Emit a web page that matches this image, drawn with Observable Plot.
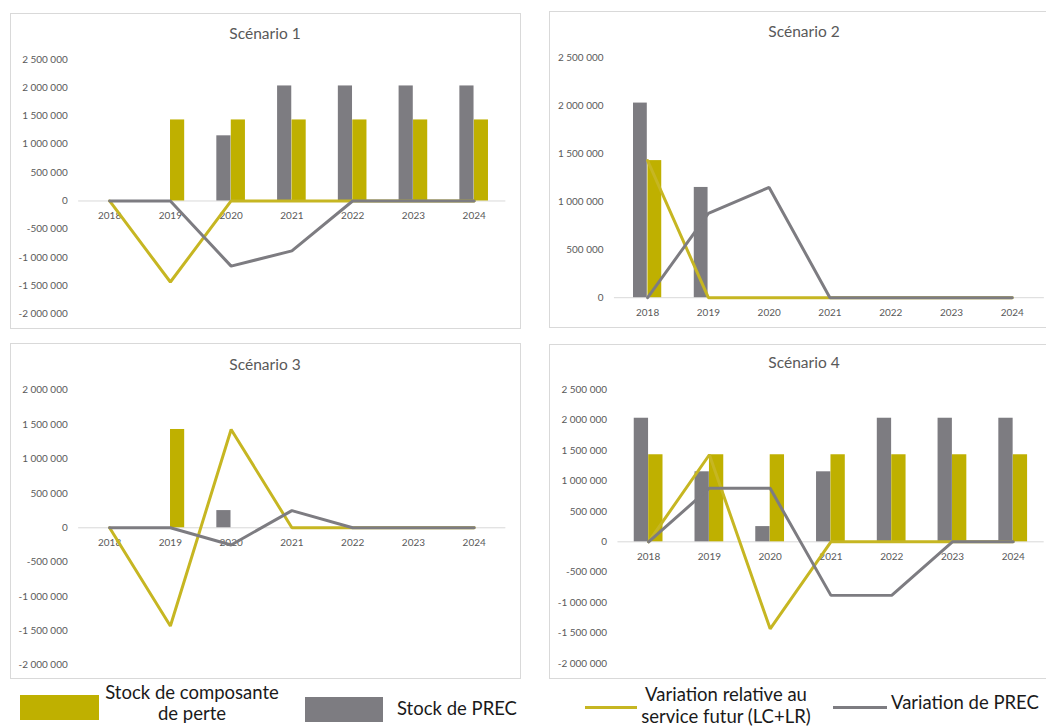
<!DOCTYPE html>
<html><head><meta charset="utf-8">
<script src="https://cdn.jsdelivr.net/npm/d3@7"></script>
<script src="https://cdn.jsdelivr.net/npm/@observablehq/plot@0.6"></script>
<style>
html,body{margin:0;padding:0;background:#fff;}
body{width:1046px;height:726px;overflow:hidden;position:relative;font-family:Lato,"Open Sans",sans-serif;}
.panel{position:absolute;border:1px solid #d9d9d9;box-sizing:border-box;}
.panel svg{position:absolute;left:-1px;top:-1px;}
.title{position:absolute;width:200px;text-align:center;font-size:15.5px;line-height:16px;color:#595959;white-space:nowrap;}
.leg{position:absolute;color:#1a1a1a;font-size:18.5px;white-space:nowrap;}
.sw{position:absolute;}
</style></head><body>
<script>
// ---- Data ----
const years = ["2018", "2019", "2020", "2021", "2022", "2023", "2024"];
const seriesNames = ["Stock de composante de perte", "Stock de PREC", "Variation relative au service futur (LC+LR)", "Variation de PREC"];
const panelTitles = ["Scénario 1", "Scénario 2", "Scénario 3", "Scénario 4"];

// Scénario 1
const stockComposante1 = [0, 1430000, 1430000, 1430000, 1430000, 1430000, 1430000];
const stockPrec1       = [0, 0, 1150000, 2030000, 2030000, 2030000, 2030000];
const varLCLR1         = [0, -1430000, 0, 0, 0, 0, 0];
const varPrec1         = [0, 0, -1150000, -880000, 0, 0, 0];
// Scénario 2
const stockComposante2 = [1430000, 0, 0, 0, 0, 0, 0];
const stockPrec2       = [2030000, 1150000, 0, 0, 0, 0, 0];
const varLCLR2         = [1430000, 0, 0, 0, 0, 0, 0];
const varPrec2         = [0, 880000, 1150000, 0, 0, 0, 0];
// Scénario 3
const stockComposante3 = [0, 1430000, 0, 0, 0, 0, 0];
const stockPrec3       = [0, 0, 250000, 0, 0, 0, 0];
const varLCLR3         = [0, -1430000, 1430000, 0, 0, 0, 0];
const varPrec3         = [0, 0, -250000, 250000, 0, 0, 0];
// Scénario 4
const stockComposante4 = [1430000, 1430000, 1430000, 1430000, 1430000, 1430000, 1430000];
const stockPrec4       = [2030000, 1150000, 250000, 1150000, 2030000, 2030000, 2030000];
const varLCLR4         = [0, 1430000, -1430000, 0, 0, 0, 0];
const varPrec4         = [0, 880000, 880000, -880000, -880000, 0, 0];

// Tick values
const yTicks1 = [-2000000, -1500000, -1000000, -500000, 0, 500000, 1000000, 1500000, 2000000, 2500000];
const yTicks2 = [0, 500000, 1000000, 1500000, 2000000, 2500000];
const yTicks3 = [-2000000, -1500000, -1000000, -500000, 0, 500000, 1000000, 1500000, 2000000];
const yTicks4 = [-2000000, -1500000, -1000000, -500000, 0, 500000, 1000000, 1500000, 2000000, 2500000];

// ---- Style ----
const GOLD_BAR = "#bfb000", GRAY_BAR = "#7d7c81", GOLD_LINE = "#c6b622", GRAY_LINE = "#7d7c81";
const fmt = d => d3.format(",")(d).replace(/,/g, " ").replace("−", "-");
const table = arr => years.map((year, i) => ({year, v: arr[i]}));

function drawPanel(p) {
  const div = document.createElement("div");
  div.className = "panel";
  div.style.left = p.box[0] + "px"; div.style.top = p.box[1] + "px";
  div.style.width = (p.box[2] - p.box[0]) + "px"; div.style.height = (p.box[3] - p.box[1]) + "px";
  document.body.appendChild(div);
  const W = p.box[2] - p.box[0], H = p.box[3] - p.box[1];
  const bw = (p.xr[1] - p.xr[0]) / years.length;
  const barW = 14.5;
  const svg = Plot.plot({
    width: W, height: H,
    marginLeft: p.xr[0] - p.box[0], marginRight: p.box[2] - p.xr[1],
    marginTop: p.yr[0] - p.box[1], marginBottom: p.box[3] - p.yr[1],
    style: {fontFamily: "Lato, 'Open Sans', sans-serif", fontSize: "10px", color: "#595959", background: "transparent", overflow: "visible"},
    x: {type: "band", domain: years, padding: 0, axis: null},
    y: {domain: p.yDomain, axis: null},
    marks: [
      Plot.ruleY([0], {stroke: "#d9d9d9", strokeWidth: 1}),
      Plot.axisY({ticks: p.ticks, tickSize: 0, tickPadding: 11, tickFormat: fmt, fontSize: 10, label: null}),
      Plot.text(years, {x: d => d, y: d => 0, dy: 15, text: d => d, fontSize: 10, fill: "#595959"}),
      Plot.barY(table(p.stockPrec), {x: "year", y: "v", fill: GRAY_BAR, insetLeft: bw / 2 - barW, insetRight: bw / 2}),
      Plot.barY(table(p.stockComp), {x: "year", y: "v", fill: GOLD_BAR, insetLeft: bw / 2, insetRight: bw / 2 - barW}),
      Plot.line(table(p.varLCLR), {x: "year", y: "v", stroke: GOLD_LINE, strokeWidth: 3, strokeLinejoin: "miter"}),
      Plot.line(table(p.varPrec), {x: "year", y: "v", stroke: GRAY_LINE, strokeWidth: 3, strokeLinejoin: "miter"})
    ]
  });
  div.appendChild(svg);
  const t = document.createElement("div");
  t.className = "title";
  t.textContent = p.title;
  t.style.left = (p.titleX - 100) + "px";
  t.style.top = (p.titleBase - 14) + "px";
  document.body.appendChild(t);
}

const panels = [
  {title: panelTitles[0], box: [10, 13, 521, 329], xr: [78.4, 507.3], yr: [59, 315], yDomain: [-2000000, 2500000], ticks: yTicks1,
   stockComp: stockComposante1, stockPrec: stockPrec1, varLCLR: varLCLR1, varPrec: varPrec1, titleX: 265, titleBase: 39},
  {title: panelTitles[1], box: [549, 11, 1070, 328], xr: [614.2, 1045.8], yr: [57.7, 298.3], yDomain: [0, 2500000], ticks: yTicks2,
   stockComp: stockComposante2, stockPrec: stockPrec2, varLCLR: varLCLR2, varPrec: varPrec2, titleX: 804, titleBase: 37},
  {title: panelTitles[2], box: [10, 343, 521, 679], xr: [78.4, 507.3], yr: [390, 666], yDomain: [-2000000, 2000000], ticks: yTicks3,
   stockComp: stockComposante3, stockPrec: stockPrec3, varLCLR: varLCLR3, varPrec: varPrec3, titleX: 265, titleBase: 370},
  {title: panelTitles[3], box: [549, 344, 1070, 679], xr: [617.7, 1045.6], yr: [389.3, 664.3], yDomain: [-2000000, 2500000], ticks: yTicks4,
   stockComp: stockComposante4, stockPrec: stockPrec4, varLCLR: varLCLR4, varPrec: varPrec4, titleX: 804, titleBase: 368}
];
panels.forEach(drawPanel);

// ---- Legend ----
function el(cls, css, html) {
  const d = document.createElement("div");
  d.className = cls; Object.assign(d.style, css);
  if (html != null) d.innerHTML = html;
  document.body.appendChild(d);
  return d;
}
el("sw", {left: "20px", top: "695px", width: "79px", height: "25px", background: GOLD_BAR});
el("leg", {left: "92px", top: "682px", width: "200px", textAlign: "center", lineHeight: "21px"}, "Stock de composante<br>de perte");
el("sw", {left: "305px", top: "697px", width: "78px", height: "25px", background: GRAY_BAR});
el("leg", {left: "397px", top: "699px", lineHeight: "19px"}, "Stock de PREC");
el("sw", {left: "585px", top: "705.5px", width: "52px", height: "3px", background: GOLD_LINE});
el("leg", {left: "621px", top: "683px", width: "210px", textAlign: "center", lineHeight: "22px"}, "Variation relative au<br>service futur (LC+LR)");
el("sw", {left: "833px", top: "705.5px", width: "54px", height: "3px", background: GRAY_LINE});
el("leg", {left: "891px", top: "693px", lineHeight: "19px"}, "Variation de PREC");
</script>
</body></html>
